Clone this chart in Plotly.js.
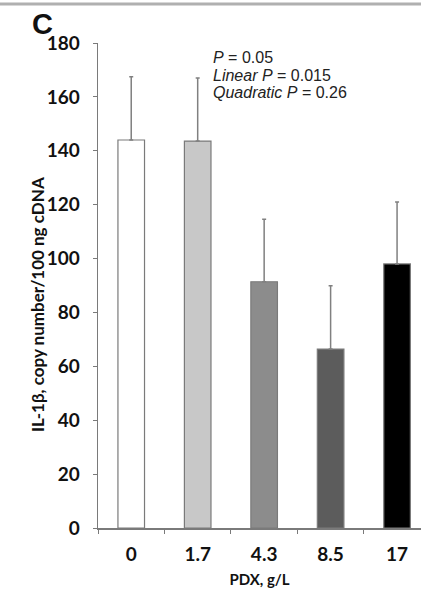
<!DOCTYPE html>
<html><head><meta charset="utf-8">
<script src="https://cdn.plot.ly/plotly-3.0.1.min.js"></script>
<style>html,body{margin:0;padding:0;background:#fff;}#c{width:421px;height:590px;}</style>
</head><body><div id="c"></div>
<script>
const categories = ["0", "1.7", "4.3", "8.5", "17"];
const means = [144, 143.6, 91.4, 66.4, 98];
const upperErr = [23.5, 23.4, 23.2, 23.5, 23];
const barColors = ["#ffffff", "#c8c8c8", "#8c8c8c", "#5c5c5c", "#000000"];
const statLines = ["<i>P</i> = 0.05", "<i>Linear P</i> = 0.015", "<i>Quadratic P</i> = 0.26"];
const yTitle = "<b>IL-1β, copy number/100 ng cDNA</b>";
const xTitle = "<b>PDX, g/L</b>";

const trace = {
  type: "bar",
  x: categories,
  y: means,
  width: 0.4,
  marker: {color: barColors, line: {color: "#7a7a7a", width: 1.2}},
  error_y: {type: "data", symmetric: false, array: upperErr, arrayminus: means.map(() => 0),
            color: "#808080", thickness: 1.5, width: 2}
};

const W = 323, H = 485, L = 98, T = 43;
const px = x => (x - L) / W;
const py = y => 1 - (y - T) / H;

const annotations = statLines.map((t, i) => ({
  xref: "paper", yref: "paper", x: px(211), y: py(57 + i * 18),
  xanchor: "left", yanchor: "middle", text: t, showarrow: false,
  font: {family: "Liberation Sans, Arial", size: 16, color: "#222"}
}));
annotations.push({
  xref: "paper", yref: "paper", x: px(30), y: py(24),
  xanchor: "left", yanchor: "middle", text: "<b>C</b>", showarrow: false,
  font: {family: "Liberation Sans, Arial", size: 29, color: "#111"}
});
annotations.push({
  xref: "paper", yref: "paper", x: px(37), y: py(305),
  xanchor: "center", yanchor: "middle", textangle: -90, text: yTitle, showarrow: false,
  font: {family: "Lato", size: 17, color: "#111"}
});

const layout = {
  width: 421, height: 590,
  margin: {l: L, r: 0, t: T, b: 62},
  paper_bgcolor: "#fff", plot_bgcolor: "#fff",
  showlegend: false,
  font: {family: "Lato, Open Sans, sans-serif", color: "#111"},
  xaxis: {
    type: "category", range: [-0.5, 4.36],
    showline: true, linecolor: "#7a7a7a", linewidth: 1.5,
    ticks: "outside", tickson: "boundaries", ticklen: 4, tickcolor: "#7a7a7a",
    ticklabelstandoff: 9,
    tickfont: {family: "Lato", size: 19, weight: "bold", color: "#111"},
    title: {text: xTitle, font: {family: "Lato", size: 15, color: "#111"}, standoff: 10},
    showgrid: false, zeroline: false
  },
  yaxis: {
    range: [0, 180], dtick: 20,
    showline: true, linecolor: "#7a7a7a", linewidth: 1.5,
    ticks: "outside", ticklen: 4, tickcolor: "#7a7a7a",
    ticklabelstandoff: 9,
    tickfont: {family: "Lato", size: 19, weight: "bold", color: "#111"},
    showgrid: false, zeroline: false
  },
  annotations: annotations,
  shapes: [{type: "line", xref: "paper", yref: "paper", x0: -1, x1: 1.2, y0: py(4), y1: py(4),
            line: {color: "#b0b0b0", width: 3}}]
};

Plotly.newPlot("c", [trace], layout, {displayModeBar: false, staticPlot: true});
</script>
</body></html>
